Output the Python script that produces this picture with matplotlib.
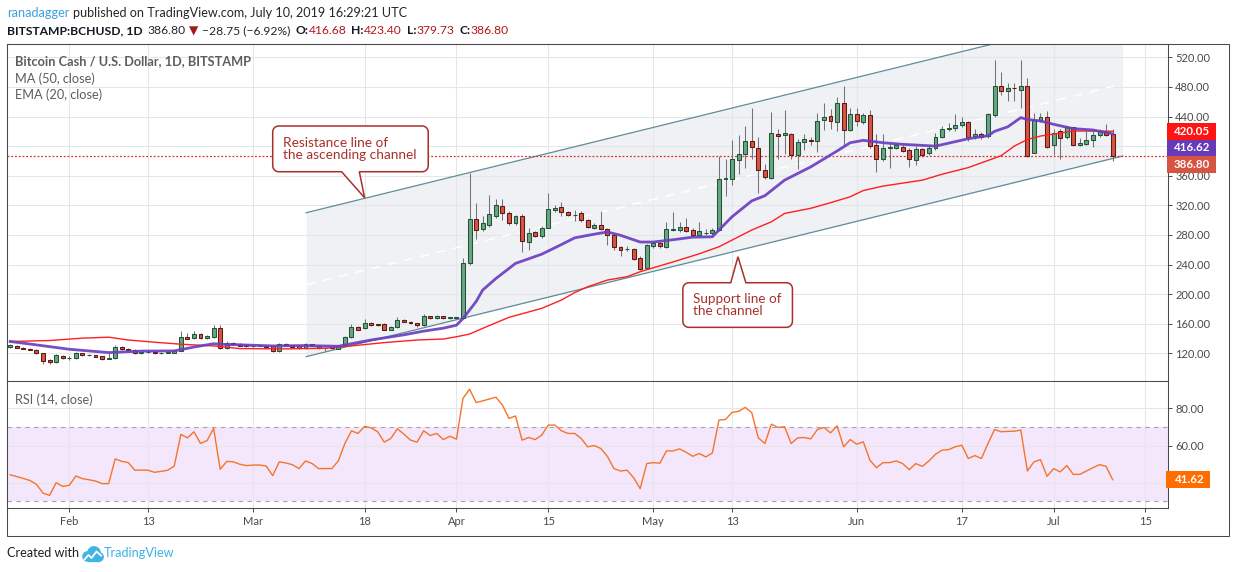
import numpy as np
import pandas as pd
import matplotlib
matplotlib.use("Agg")
import matplotlib.pyplot as plt
import matplotlib.dates as mdates
from matplotlib.patches import Rectangle, PathPatch, Circle
from matplotlib.path import Path
from matplotlib.transforms import IdentityTransform

plt.rcParams['font.family'] = ['Lato', 'DejaVu Sans']
plt.rcParams['axes.unicode_minus'] = True

W, H, DPI = 1234, 572, 100

# ---------------- data (BITSTAMP:BCHUSD, 1D) ----------------
start_date = "2019-01-23"
opens = [128, 130.5, 127.7, 126.5, 125, 120, 111, 108.6, 116, 113.5,
         114, 120.5, 117.3, 117.5, 116.4, 113, 113.5, 128.2, 126.4, 124.5,
         120, 121.8, 121.8, 120, 120.8, 120.5, 123, 141.8, 140.5, 146.4,
         140.5, 142, 154, 126.8, 134, 132.3, 130.9, 129.5, 130.5, 130.5,
         129.5, 122.7, 132.3, 131, 130, 126.8, 132.3, 130.5, 127.5, 128,
         126.4, 130.9, 141.8, 155, 154, 161, 159.5, 159.5, 151.8, 155,
         165, 163, 160.5, 157.7, 170, 167.3, 170, 167.3, 168, 168,
         242.5, 301, 287.5, 293, 305, 319.6, 309.7, 296, 306, 271,
         283.5, 278, 290, 314, 318, 311.5, 307, 309, 300, 290,
         293, 288, 280, 264, 260.5, 260.5, 249, 235, 265, 269.5,
         264, 287, 286, 290.8, 286.7, 279.5, 282.5, 282, 286.7, 355,
         356, 381.5, 390, 406.5, 398, 368, 357, 417, 415, 416.6,
         387.6, 406, 408.5, 406.5, 435, 441, 432.5, 458.7, 421.7, 443,
         433, 441.6, 401, 383, 398, 398, 399, 394.5, 380.6, 396,
         390.6, 397, 413, 422.7, 424, 428, 432, 414, 417, 413.9,
         442.3, 480.6, 475, 478.5, 476, 481.5, 391, 435, 439, 401.8,
         420, 412, 425.4, 402, 403, 408.6, 415.5, 419, 416.68]
highs = [132, 131.5, 128.5, 127.5, 125.5, 121, 112, 119, 118, 117,
         121.5, 121, 118.5, 118, 117, 120, 131, 130, 127.5, 125.5,
         122.5, 122.5, 122.5, 121.5, 121.8, 124.5, 149.5, 147, 149.5, 147,
         144.5, 158, 158.6, 137, 135.5, 133.5, 131.5, 131, 131, 131.5,
         130, 133.5, 133.5, 131.5, 131, 133.5, 133, 131, 128.5, 128.5,
         131, 143.5, 159.5, 156.5, 166, 162, 160, 160.5, 156.5, 169,
         166, 163.5, 161, 173.6, 171, 172, 171, 169.5, 169.5, 249,
         364, 323.6, 305, 333.5, 329, 328, 312, 307.5, 308, 290,
         285, 292, 336, 320, 325, 313, 314, 312, 302, 296,
         313, 290, 282, 265, 265, 262, 251, 268, 271, 272,
         298, 311, 298, 303, 290, 297, 288, 290, 386.6, 382,
         408, 414.6, 427, 452, 412.8, 375.4, 446, 422.7, 448.8, 418,
         410, 416.6, 412.8, 445, 457.8, 449.7, 467, 481, 452, 452,
         445, 448.8, 416, 416, 404.7, 404, 402, 398, 400, 398,
         401, 418, 427, 431.6, 443, 440, 434, 422.7, 419, 445,
         517, 500, 485.8, 485.8, 516, 492.7, 445, 445, 447.5, 422.7,
         422.7, 427, 426, 411, 420, 420, 422.7, 429.5, 423.4]
lows = [127, 127, 125.5, 124, 119, 105.5, 106, 107.5, 112, 111.5,
        113, 116.5, 116.5, 114.5, 111.5, 112.5, 113, 124, 123.5, 119.5,
        119, 120.5, 119.5, 119, 120, 120, 122.5, 139, 140, 139.5,
        139.5, 141, 126, 126, 131.5, 129.5, 128.5, 129, 129.5, 128.5,
        121.5, 122, 130.5, 128.5, 126, 126, 130, 126.5, 123.5, 126,
        126, 130.5, 141, 151, 153, 157, 157, 151, 151, 154.5,
        162, 159.5, 155.5, 157, 166.5, 166.5, 166.5, 166.5, 167, 167,
        240, 274, 285, 291, 303, 300, 294, 294, 257, 260,
        277, 276, 289, 311, 306, 305, 299, 298, 289, 288,
        286, 267, 259, 252, 258, 246, 232, 234, 263, 263,
        263, 285, 284, 284, 277, 278, 280, 280, 285, 333,
        348, 362, 371, 382, 336, 355, 355, 382, 390, 383,
        368.6, 394.7, 401, 392, 421.7, 422.6, 420, 401.5, 420, 427,
        430, 398, 365, 380, 371, 396, 392, 372, 375, 385,
        388, 395, 411, 420, 420, 426, 407, 410, 410, 411,
        440, 469, 461, 461, 452, 385.8, 391, 432, 398, 387.6,
        383, 410, 400, 400, 401, 399, 413, 414, 379.73]
closes = [131, 127.7, 126.5, 124.5, 120, 110, 108.6, 117.3, 113.5, 114,
          120.5, 117.3, 117.7, 115.5, 113, 113.3, 128.2, 126.4, 124.5, 120,
          121.8, 121.9, 120, 121, 121.2, 123.6, 141.8, 140, 146.4, 140.5,
          143.6, 154, 126.8, 134, 132.3, 130, 129.5, 130.5, 130, 129,
          122.7, 132.3, 131, 129, 126.8, 132.3, 130.5, 127.3, 127.7, 127,
          130.5, 142.7, 155, 151.8, 161, 158, 157.7, 151.8, 155.5, 165,
          162.7, 160.5, 157.7, 170, 167.3, 170.5, 167.3, 168.6, 168.6, 242.5,
          301, 287, 295.7, 308, 321, 309.7, 296.2, 306, 272, 282,
          279, 290, 315, 317, 311.5, 307, 307.5, 300, 291, 293,
          288.6, 280, 264, 259.6, 260.5, 248, 234, 266, 268.6, 265,
          287.6, 287.5, 291, 285, 279.5, 285.8, 282.5, 286.7, 355, 357.4,
          383, 389.7, 406.5, 399.3, 367.7, 358.5, 418, 414, 418, 387.8,
          406, 410, 407.5, 434, 439.5, 434, 457.8, 421.7, 444, 433.5,
          442, 400, 383, 398, 398.3, 402, 394, 382.5, 396, 388,
          398, 412.8, 422.7, 425, 428, 432, 413, 417, 413, 443,
          480.6, 475, 478, 478, 481.5, 386.7, 435, 439, 398.5, 418.4,
          411, 425.4, 402, 404, 408.6, 415.5, 421, 415.55, 386.8]

rsi = [44.3, 43.3, 42.3, 41.2, 39.1, 34.4, 33.2, 40, 38, 38.6,
       43.6, 42.2, 41.6, 40.9, 39.5, 39.5, 52.8, 51.5, 50.8, 46.7,
       46.8, 46.7, 45.6, 46.1, 46.7, 49, 66, 64.1, 67.4, 61.1,
       62.7, 69.2, 47.2, 51.5, 51.2, 49.9, 49.2, 49.5, 49.5, 49,
       43.8, 51.2, 50.6, 49.7, 47.6, 51.7, 50.3, 47.6, 47.6, 47.6,
       51.7, 61.1, 67.9, 66.5, 70.3, 69.5, 67.4, 61.8, 63.8, 69,
       66.1, 62.9, 61.8, 67.9, 65.4, 66.5, 63.2, 65, 63.4, 85.4,
       90.3, 83.1, 84, 85, 86, 81.8, 74.6, 75.9, 62.9, 64.3,
       63.2, 65.6, 71, 71, 67.9, 66.5, 66.5, 63.8, 59.3, 60,
       58.4, 54.2, 47.6, 46.3, 46.7, 42.7, 36.8, 50.3, 50.8, 50.5,
       57.1, 57.1, 58.2, 56.4, 54.2, 55.7, 53.9, 56, 73.7, 74,
       77.8, 78.4, 80.5, 77.7, 64.1, 61.1, 71.5, 69.7, 70.1, 61.1,
       64.1, 64.3, 63.6, 68.6, 69.7, 66.8, 70.6, 59.3, 63.2, 60.7,
       62, 52.1, 48.1, 50.8, 50.8, 51.7, 50.3, 47, 50.3, 48.8,
       51.7, 55.3, 57.5, 57.8, 59.3, 60.2, 53, 54.6, 53, 61.1,
       68.6, 67.4, 67.6, 67.7, 68.3, 46.3, 51.2, 52.4, 43.4, 47.6,
       45.8, 49.2, 44.5, 44.5, 46.3, 48.1, 49.7, 48.8, 41.62]

# EMA(20) and MA(50) (day offset from start_date, value)
ema_days = [0, 4, 9, 15, 20, 25, 26, 28, 31, 32, 35, 40, 45, 50, 52, 55, 60, 63, 66, 68,
            69, 71, 72, 74, 77, 81, 84, 86, 89, 91, 93, 96, 98, 101, 104, 107, 108, 110, 113, 115,
            118, 122, 126, 128, 130, 133, 136, 139, 141, 146, 148, 149, 150, 152, 154, 155, 157, 159,
            162, 165, 168]
ema_vals = [136, 131.4, 125.5, 121, 123, 123.3, 125, 128.5, 133, 132.3, 131.5, 130, 130.5, 129.5,
            133, 138, 145, 150, 154, 158, 167, 190, 205.5, 221, 241.5, 254, 267, 276, 281, 284,
            279.5, 270.4, 270.4, 273.5, 277, 277.5, 286.6, 304.6, 326, 333, 354, 372, 393.4, 404.6,
            407.8, 404.6, 402.4, 401, 400, 410, 412.8, 414, 420, 426, 438.5, 436, 434, 429.5,
            423.6, 421.8, 416.62]
ma_days = [0, 6, 11, 15, 18, 22, 26, 31, 35, 42, 48, 52, 57, 62, 66, 68, 70, 72, 76, 81,
           84, 86, 88, 91, 94, 96, 101, 105, 108, 110, 113, 116, 118, 122, 125, 128, 130, 133, 139, 142,
           146, 151, 153, 155, 157, 159, 162, 165, 168]
ma_vals = [136, 137.3, 140.5, 141.8, 138, 135, 132.3, 130, 126.4, 126, 126.8, 130, 134.5, 138,
           139.3, 142.4, 146, 153.8, 168.6, 180.8, 192, 202, 210, 219, 223.5, 230.3, 243.5, 254.5,
           264, 273, 286.6, 297.8, 309, 316, 323.5, 331.6, 340, 346, 354, 362, 371, 387, 400,
           409, 413.6, 416.3, 420.4, 420.4, 420.05]

tick_dates = ["2019-02-01", "2019-02-13", "2019-03-01", "2019-03-18", "2019-04-01", "2019-04-15",
              "2019-05-01", "2019-05-13", "2019-06-01", "2019-06-17", "2019-07-01", "2019-07-15"]
tick_labels = ["Feb", "13", "Mar", "18", "Apr", "15", "May", "13", "Jun", "17", "Jul", "15"]
price_ticks = [120, 160, 200, 240, 280, 320, 360, 400, 440, 480, 520]
rsi_ticks = [40, 60, 80]

# drawings on the chart (day offsets / prices)
channel_days = [45.1, 169.5]
channel_support = [115.5, 386.6]
channel_width = 194.5
res_note = "Resistance line of\nthe ascending channel"
res_box_days, res_box_prices = [40.0, 63.7], [365.4, 427.2]
res_tip, res_base_days = [54.0, 330.3], [50.5, 53.2]
sup_note = "Support line of\nthe channel"
sup_box_days, sup_box_prices = [102.5, 119.2], [155.1, 215.4]
sup_tip, sup_base_days = [110.9, 250.5], [109.8, 112.1]

# ---------------- figure ----------------
fig = plt.figure(figsize=(W / DPI, H / DPI), dpi=DPI)
fig.patch.set_facecolor('white')
REN = fig.canvas.get_renderer()


def fy(py):
    return 1 - py / H


L_, R_, T_, M_, B_ = 7, 1168, 44, 381, 508
ax = fig.add_axes([L_ / W, fy(M_), (R_ - L_) / W, (M_ - T_) / H])
ax2 = fig.add_axes([L_ / W, fy(B_), (R_ - L_) / W, (B_ - M_) / H])

base = mdates.date2num(pd.Timestamp(start_date))
dates = pd.date_range(start_date, periods=len(closes), freq="D")
x = mdates.date2num(dates)
for a in (ax, ax2):
    a.set_xlim(base - 0.49, base + 176.43)
ax.set_ylim(82.6, 538.0)
ax2.set_ylim(26.4, 94.7)

frame_c = '#4a4a4a'
grid_c = '#e4e6e9'
tick_nums = mdates.date2num(pd.to_datetime(tick_dates))

for v in price_ticks:
    ax.axhline(v, color=grid_c, lw=0.75, zorder=1)
for v in rsi_ticks:
    ax2.axhline(v, color=grid_c, lw=0.75, zorder=1)
for t in tick_nums:
    ax.axvline(t, color=grid_c, lw=0.75, zorder=1)
    ax2.axvline(t, color=grid_c, lw=0.75, zorder=1)

# channel
cd = base + np.array(channel_days)
sup = np.array(channel_support)
res = sup + channel_width
mid = sup + channel_width / 2
ax.fill_between(cd, sup, res, color='#eff1f4', lw=0, zorder=0.5)
ax.plot(cd, mid, color='white', lw=1.1, ls=(0, (6, 5)), zorder=1.5)
ax.plot(cd, sup, color='#5e8c97', lw=0.9, zorder=2)
ax.plot(cd, res, color='#5e8c97', lw=0.9, zorder=2)

# last price dotted line
ax.axhline(closes[-1], color='#e0302a', lw=0.9, ls=(0, (1.5, 1.5)), zorder=2)

# candles
o = np.array(opens); c = np.array(closes); hi = np.array(highs); lo = np.array(lows)
up = c >= o
ax.vlines(x, lo, hi, color='#737375', lw=0.75, zorder=3)
ax.bar(x[up], (c - o)[up], bottom=o[up], width=0.6, color='#6aa583', edgecolor='#225437',
       lw=0.75, zorder=4)
ax.bar(x[~up], (o - c)[~up], bottom=c[~up], width=0.6, color='#d75442', edgecolor='#5b1a13',
       lw=0.75, zorder=4)

# moving averages
ax.plot(base + np.array(ma_days), ma_vals, color='#ff1f1f', lw=1.0, zorder=5)
ax.plot(base + np.array(ema_days), ema_vals, color='#6a3fc0', lw=2.0, alpha=0.92, zorder=6,
        solid_joinstyle='round')

# RSI pane
ax2.axhspan(30, 70, color='#f4e7fc', lw=0, zorder=0.5)
ax2.axhline(70, color='#a7a3ab', lw=0.8, ls=(0, (4, 4)), zorder=1.2)
ax2.axhline(30, color='#a7a3ab', lw=0.8, ls=(0, (4, 4)), zorder=1.2)
ax2.plot(x, rsi, color='#f5742a', lw=1.0, zorder=4)

# axes styling
for a in (ax, ax2):
    for s in a.spines.values():
        s.set_color(frame_c)
        s.set_linewidth(0.75)
    a.yaxis.tick_right()
    a.set_facecolor('white')

# scale labels hidden behind the last-value tags are left blank (as in the reference)
hidden_price = {400}
hidden_rsi = {40}
ax.set_yticks(price_ticks)
ax.set_yticklabels(["" if v in hidden_price else f"{v:.2f}" for v in price_ticks])
ax.tick_params(axis='y', length=2.9, width=0.7, colors=frame_c, labelsize=8, pad=2.2)
ax.tick_params(axis='x', length=0, labelbottom=False)
ax.set_xticks(tick_nums)
ax2.set_yticks(rsi_ticks)
ax2.set_yticklabels(["" if v in hidden_rsi else f"{v:.2f}" for v in rsi_ticks])
ax2.tick_params(axis='y', length=2.9, width=0.7, colors=frame_c, labelsize=8, pad=2.2)
ax2.set_xticks(tick_nums)
ax2.set_xticklabels(tick_labels)
ax2.tick_params(axis='x', length=2.9, width=0.7, colors=frame_c, labelsize=8, pad=3.0)

# outer frame
fig.add_artist(Rectangle((L_ / W, fy(536)), (1229 - L_) / W, (536 - T_) / H,
                         transform=fig.transFigure, fill=False, edgecolor=frame_c, lw=0.75,
                         zorder=0.1))


def fit(t, target):
    w = t.get_window_extent(REN).width
    t.set_fontsize(t.get_fontsize() * target / w)


# value labels on the scales
lab_h = 16.6
prev_bottom = None
for v, col in [(ma_vals[-1], '#ff1414'), (ema_vals[-1], '#673ab7'), (closes[-1], '#d75442')]:
    yc = ax.transData.transform((base, v))[1]
    if prev_bottom is not None and yc + lab_h / 2 > prev_bottom:
        yc = prev_bottom - lab_h / 2
    fig.add_artist(Rectangle((1167, yc - lab_h / 2), 49, lab_h, transform=IdentityTransform(),
                             facecolor=col, edgecolor='none', zorder=5))
    fig.text(1174, yc, f"{v:.2f}", transform=IdentityTransform(), color='white',
             fontweight='bold', fontsize=8.3, ha='left', va='center', zorder=6)
    prev_bottom = yc - lab_h / 2
yc = ax2.transData.transform((base, rsi[-1]))[1]
fig.add_artist(Rectangle((1166, yc - lab_h / 2), 44, lab_h, transform=IdentityTransform(),
                         facecolor='#ff6d00', edgecolor='none', zorder=5))
fig.text(1175, yc, f"{rsi[-1]:.2f}", transform=IdentityTransform(), color='white',
         fontweight='bold', fontsize=8.3, ha='left', va='center', zorder=6)


# callouts
def callout(box_days, box_prices, base_days, tip, note, fit_px):
    x0, y0 = ax.transData.transform((base + box_days[0], box_prices[0]))
    x1, y1 = ax.transData.transform((base + box_days[1], box_prices[1]))
    tx, ty = ax.transData.transform((base + tip[0], tip[1]))
    bl = ax.transData.transform((base + base_days[0], 0))[0]
    br = ax.transData.transform((base + base_days[1], 0))[0]
    r = 6
    verts = []

    def arc(cx, cy, a0, a1):
        for ang in np.radians(np.linspace(a0, a1, 8)):
            verts.append((cx + r * np.cos(ang), cy + r * np.sin(ang)))

    arc(x0 + r, y1 - r, 180, 90)
    if ty > y1:
        verts.extend([(bl, y1), (tx, ty), (br, y1)])
    arc(x1 - r, y1 - r, 90, 0)
    arc(x1 - r, y0 + r, 0, -90)
    if ty < y0:
        verts.extend([(br, y0), (tx, ty), (bl, y0)])
    arc(x0 + r, y0 + r, 270, 180)
    verts.append(verts[0])
    codes = [Path.MOVETO] + [Path.LINETO] * (len(verts) - 2) + [Path.CLOSEPOLY]
    fig.add_artist(PathPatch(Path(verts, codes), facecolor='white', edgecolor='#a8302c',
                             lw=1.1, transform=IdentityTransform(), zorder=8))
    t = fig.text(x0 + 10, (y0 + y1) / 2, note, transform=IdentityTransform(), color='#a8302c',
                 fontsize=9.5, ha='left', va='center', linespacing=0.95, zorder=9)
    fit(t, fit_px)


callout(res_box_days, res_box_prices, res_base_days, res_tip, res_note, 134)
callout(sup_box_days, sup_box_prices, sup_base_days, sup_tip, sup_note, 88)


# header and legends
def seq(x_px, y_px, pieces, fs):
    xx = x_px
    for s, col, wt, gap in pieces:
        t = fig.text(xx / W, fy(y_px), s, color=col, fontweight=wt, fontsize=fs,
                     ha='left', va='center')
        xx += t.get_window_extent(REN).width + gap


probe = fig.text(0, 0, "ranadagger published on TradingView.com, July 10, 2019 16:29:21 UTC",
                 fontsize=10)
fit(probe, 400)
fs1 = probe.get_fontsize()
probe.remove()
seq(7, 12.7, [("ranadagger", '#3a9fdc', 'normal', 3.5),
              ("published on TradingView.com, July 10, 2019 16:29:21 UTC", '#262626', 'normal', 0)],
    fs1)

probe = fig.text(0, 0, "BITSTAMP:BCHUSD, 1D", fontsize=10, fontweight='bold')
fit(probe, 135)
fs2 = probe.get_fontsize()
probe.remove()
chg = closes[-1] - closes[-2]
pct = chg / closes[-2] * 100
red = '#b3161b'
seq(7, 30.7, [("BITSTAMP:BCHUSD, 1D", '#131722', 'bold', 5),
              (f"{closes[-1]:.2f}", '#262626', 'normal', 3),
              ("\u25BC", '#a3171b', 'normal', 4),
              (f"\u2212{abs(chg):.2f} (\u2212{abs(pct):.2f}%)", '#262626', 'normal', 5),
              ("O:", '#131722', 'bold', 0), (f"{opens[-1]:.2f}", red, 'normal', 5),
              ("H:", '#131722', 'bold', 0), (f"{highs[-1]:.2f}", red, 'normal', 5),
              ("L:", '#131722', 'bold', 0), (f"{lows[-1]:.2f}", red, 'normal', 5),
              ("C:", '#131722', 'bold', 0), (f"{closes[-1]:.2f}", red, 'normal', 0)], fs2)

t = fig.text(15 / W, fy(60.7), "Bitcoin Cash / U.S. Dollar, 1D, BITSTAMP", color='#5d5d5d',
             fontweight='bold', fontsize=9, ha='left', va='center')
fit(t, 236)
fsl = t.get_fontsize()
fig.text(15 / W, fy(78.3), "MA (50, close)", color='#5d5d5d', fontsize=fsl, ha='left', va='center')
fig.text(15 / W, fy(95.0), "EMA (20, close)", color='#5d5d5d', fontsize=fsl, ha='left', va='center')
fig.text(15 / W, fy(400), "RSI (14, close)", color='#5d5d5d', fontsize=fsl, ha='left', va='center')

# footer
t = fig.text(7 / W, fy(553), "Created with", color='#1e1e1e', fontsize=10, ha='left', va='center')
fit(t, 72)
fig.text(104 / W, fy(553), "TradingView", color='#3cb0e4', fontsize=t.get_fontsize(),
         ha='left', va='center')
logo_c = '#41b4e6'
for cx, cy, rr in [(87.5, 556.5, 4.6), (94.0, 553.0, 6.2), (99.0, 557.0, 4.2)]:
    fig.add_artist(Circle((cx, H - cy), rr, transform=IdentityTransform(), color=logo_c, zorder=3))
fig.add_artist(Rectangle((87.5, H - 561.2), 11.5, 5, transform=IdentityTransform(), color=logo_c,
                         zorder=3))
lz = np.array([[84.5, 559.5], [88.5, 555.0], [91.5, 558.0], [96.5, 551.5], [101.0, 555.5]])
fig.add_artist(plt.Line2D(lz[:, 0], H - lz[:, 1], transform=IdentityTransform(), color='white',
                          lw=1.3, zorder=4))

fig.savefig("out.png", dpi=DPI, facecolor='white')
